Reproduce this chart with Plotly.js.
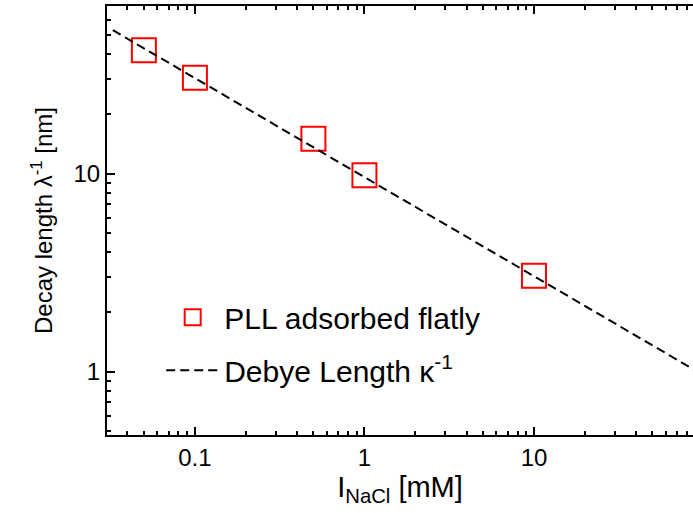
<!DOCTYPE html>
<html>
<head>
<meta charset="utf-8">
<script src="https://cdn.plot.ly/plotly-3.0.1.min.js"></script>
<style>html,body{margin:0;padding:0;background:#fff;overflow:hidden;}</style>
</head>
<body>
<div id="chart" style="width:693px;height:513px;"></div>
<script>
// Measured data (NaCl ionic strength in mM, decay length in nm)
const ionicStrength = [0.05, 0.1, 0.5, 1, 10];
const decayLength = [42, 30.5, 15, 9.8, 3.05];
// Debye length line, endpoints
const debyeX = [0.0328, 100];
const debyeY = [53, 0.96];
// Tick labels
const xTickVals = [0.1, 1, 10];
const xTickText = ['0.1', '1', '10'];
const yTickVals = [1, 10];
const yTickText = ['1', '10'];
const xMinorVals = [0.04,0.05,0.06,0.07,0.08,0.09,0.2,0.3,0.4,0.5,0.6,0.7,0.8,0.9,2,3,4,5,6,7,8,9,20,30,40,50,60,70,80];
const yMinorVals = [0.5,0.6,0.7,0.8,0.9,2,3,4,5,6,7,8,9,20,30,40,50,60,70];

const family = 'Liberation Sans, Arial, sans-serif';
const font = {family: family, size: 24, color: '#000'};
const legendFont = {family: family, size: 30, color: '#000'};
const xTitleFont = {family: family, size: 29, color: '#000'};

const traces = [
  {
    x: ionicStrength, y: decayLength,
    type: 'scatter', mode: 'markers',
    name: 'PLL adsorbed flatly',
    legendgroup: 'a',
    marker: {symbol: 'square-open', size: 24, color: '#ff0000', line: {width: 2, color: '#ff0000'}},
    cliponaxis: false
  },
  {
    x: debyeX, y: debyeY,
    type: 'scatter', mode: 'lines',
    name: 'Debye Length κ<sup>-1</sup>',
    legendgroup: 'b',
    line: {color: '#000', width: 2, dash: '9px,5px'}
  }
];

const axisCommon = {
  type: 'log',
  showgrid: false,
  zeroline: false,
  showline: true,
  linecolor: '#000',
  linewidth: 2,
  ticks: 'inside',
  ticklen: 8,
  tickwidth: 2,
  tickcolor: '#000',
  tickfont: font
};

const layout = {
  width: 693, height: 513,
  margin: {l: 107, r: 0, t: 6, b: 78},
  paper_bgcolor: '#fff', plot_bgcolor: '#fff',
  font: font,
  showlegend: true,
  legend: {
    x: 0.0925, y: 0.335, xanchor: 'left', yanchor: 'top',
    bgcolor: 'rgba(0,0,0,0)', borderwidth: 0,
    font: legendFont, itemwidth: 53, tracegroupgap: 11
  },
  xaxis: Object.assign({}, axisCommon, {
    range: [Math.log10(0.0303), Math.log10(86.7)],
    mirror: 'ticks',
    tickmode: 'array', tickvals: xTickVals, ticktext: xTickText,
    minor: {tickmode: 'array', tickvals: xMinorVals, ticks: 'inside', ticklen: 4, tickwidth: 2, tickcolor: '#000', showgrid: false},
    title: {text: 'I<sub>NaCl</sub> [mM]', font: xTitleFont, standoff: 6}
  }),
  yaxis: Object.assign({}, axisCommon, {
    range: [Math.log10(0.479), Math.log10(70.2)],
    mirror: false,
    tickmode: 'array', tickvals: yTickVals, ticktext: yTickText,
    minor: {tickmode: 'array', tickvals: yMinorVals, ticks: 'inside', ticklen: 4, tickwidth: 2, tickcolor: '#000', showgrid: false},
    title: {text: 'Decay length λ<sup>-1</sup> [nm]', font: font, standoff: 14}
  })
};

Plotly.newPlot('chart', traces, layout, {displayModeBar: false, staticPlot: true});
</script>
</body>
</html>
